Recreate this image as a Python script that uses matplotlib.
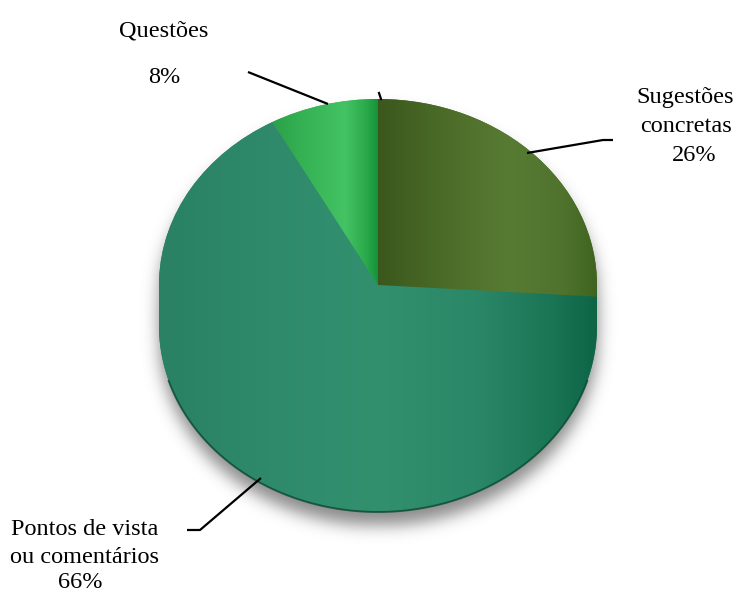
import numpy as np
import matplotlib
matplotlib.use("Agg")
import matplotlib.pyplot as plt
from matplotlib.colors import to_rgb
from matplotlib.patches import Polygon

# slices, clockwise from 12 o'clock
labels = [["Sugestões", "concretas"], ["Pontos de vista", "ou comentários"], ["Questões"]]
shares = [26, 66, 8]

W, H = 740, 594
CX, CY = 378, 285      # centre of the top face, pixels
RX, RY = 219, 186      # radii of the top face, pixels
DEPTH = 41             # thickness of the disc, pixels

# horizontal colour ramps (x in pie units) for each slice
ramps = [
    [(0.0, "#3b571d"), (0.3, "#4b6c28"), (0.6, "#587b34"), (0.85, "#4f732d"), (1.0, "#3f6420")],
    [(-1.0, "#2a8163"), (-0.5, "#2e8a6b"), (0.0, "#32906f"), (0.45, "#2a8767"),
     (0.8, "#1a7555"), (1.0, "#0d6546")],
    [(-0.5, "#2a9e46"), (-0.35, "#35b153"), (-0.15, "#43c364"), (-0.05, "#2aa84a"), (0.0, "#13923a")],
]
base_colors = ["#4f702b", "#2b8366", "#34b052"]


def to_u(px, py):
    return (px - CX) / RX, (CY - py) / RY


def ramp_image(ax, stops, clip, zorder):
    xs = np.linspace(-1.05, 1.05, 500)
    pos, cols = zip(*stops)
    rgb = np.array([to_rgb(c) for c in cols])
    img = np.stack([np.interp(xs, pos, rgb[:, i]) for i in range(3)], axis=-1)[None, :, :]
    im = ax.imshow(img, extent=(-1.05, 1.05, -1.5, 1.05), aspect="auto",
                   interpolation="bilinear", zorder=zorder)
    im.set_clip_path(clip)


def blur(a, sigma):
    r = int(3 * sigma)
    k = np.exp(-0.5 * (np.arange(-r, r + 1) / sigma) ** 2)
    k /= k.sum()
    a = np.apply_along_axis(lambda v: np.convolve(v, k, mode="same"), 1, a)
    return np.apply_along_axis(lambda v: np.convolve(v, k, mode="same"), 0, a)


fig = plt.figure(figsize=(W / 100, H / 100), dpi=100)
ax = fig.add_axes([0, 0, 1, 1])
xlim = (-CX / RX, (W - CX) / RX)
ylim = (-(H - CY) / RY, CY / RY)

# soft drop shadow under the disc
yy, xx = np.mgrid[0:H, 0:W].astype(float)
off = 13
m = (((xx - CX) / RX) ** 2 + ((yy - CY - off) / RY) ** 2 <= 1) | \
    (((xx - CX) / RX) ** 2 + ((yy - CY - DEPTH - off) / RY) ** 2 <= 1) | \
    ((np.abs(xx - CX) <= RX) & (yy >= CY + off) & (yy <= CY + DEPTH + off))
sh = blur(m.astype(float), 8)
shadow = np.zeros((H, W, 4))
shadow[..., :3] = 0.40
shadow[..., 3] = sh * 0.75
ax.imshow(shadow, extent=(xlim[0], xlim[1], ylim[0], ylim[1]), origin="upper",
          aspect="auto", zorder=0)

# side of the disc: lower half of the top face plus the band below it
d = DEPTH / RY
t = np.linspace(0, -np.pi, 300)
side_xy = np.concatenate([[(1, 0), (1, -d)], np.c_[np.cos(t), np.sin(t) - d], [(-1, -d), (-1, 0)]])
side = Polygon(side_xy, closed=True, facecolor="#1f7a5b", edgecolor="none", zorder=1)
ax.add_patch(side)

# top face
wedges, _ = ax.pie(shares, startangle=90, counterclock=False, radius=1,
                   colors=base_colors, wedgeprops=dict(linewidth=0))
for w in wedges:
    w.set_zorder(2)
ramp_image(ax, ramps[1], side, zorder=2.2)
for w, stops in zip(wedges, ramps):
    ramp_image(ax, stops, w, zorder=2.3 if w is wedges[1] else 2.5)

# dark rim along the front bottom edge
tb = np.linspace(-0.3, -np.pi + 0.3, 300)
ax.plot(np.cos(tb), np.sin(tb) - d, color="#0b4a33", lw=1.4, alpha=0.8, zorder=2.6)

# leader lines, pixel coordinates
leaders = [
    [(527, 153), (603, 140), (613, 140)],
    [(187, 530), (200, 530), (261, 478)],
    [(248, 72), (328, 104)],
]
for pts in leaders:
    u = np.array([to_u(*p) for p in pts])
    ax.plot(u[:, 0], u[:, 1], color="black", lw=1.6, zorder=3, solid_capstyle="butt")
u = np.array([to_u(379, 93), to_u(381, 99)])
ax.plot(u[:, 0], u[:, 1], color="black", lw=1.6, zorder=3)

# label lines: (x centre, baseline) in pixels
label_pos = [
    [(685, 103), (686, 132), (694, 161)],
    [(85, 535), (85, 563), (80, 588)],
    [(164, 36), (164, 83)],
]
for lines, share, pos in zip(labels, shares, label_pos):
    for s, (x, y) in zip(lines + [f"{share}%"], pos):
        fig.text(x / W, 1 - y / H, s, ha="center", va="baseline",
                 family="Liberation Serif", fontsize=17.5, color="black")

ax.set_xlim(*xlim)
ax.set_ylim(*ylim)
ax.set_aspect("auto")
ax.axis("off")
fig.savefig("out.png", dpi=100)
